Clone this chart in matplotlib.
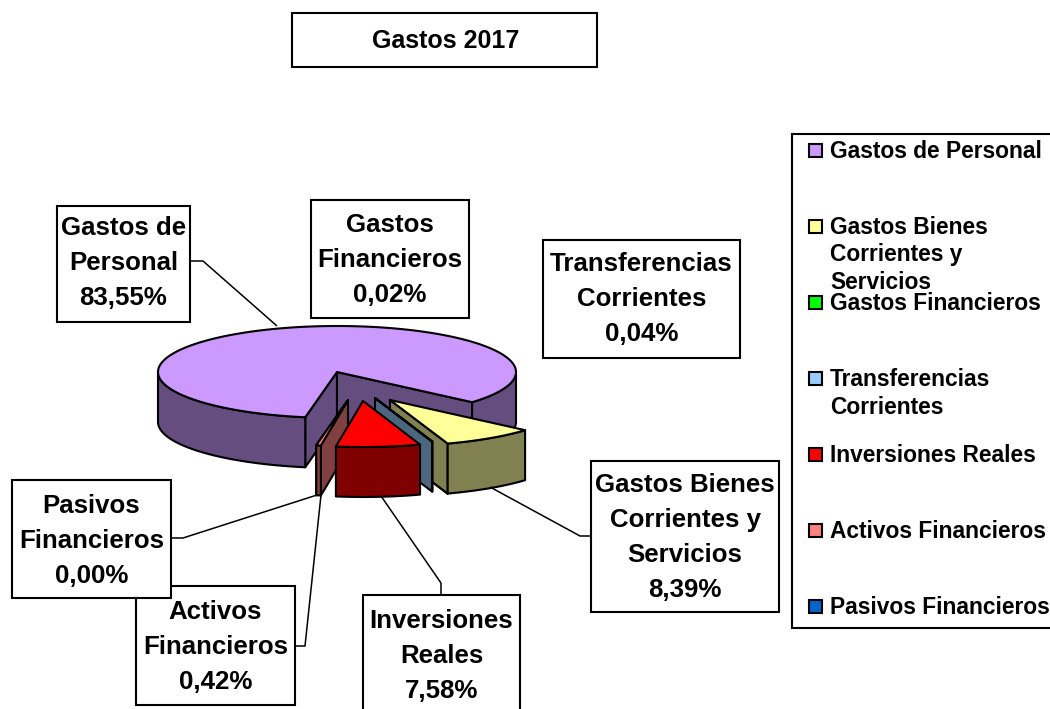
import numpy as np
import matplotlib
matplotlib.use("Agg")
import matplotlib.pyplot as plt
from matplotlib.patches import Polygon, Rectangle

plt.rcParams['font.family'] = ['Liberation Sans', 'DejaVu Sans']

# ---- data ----
title = "Gastos 2017"
categories = ["Gastos de Personal", "Gastos Bienes Corrientes y Servicios", "Gastos Financieros",
              "Transferencias Corrientes", "Inversiones Reales", "Activos Financieros", "Pasivos Financieros"]
values = [83.55, 8.39, 0.02, 0.04, 7.58, 0.42, 0.00]

# ---- styles / layout (pixel coordinates) ----
top_colors = ["#CC99FF", "#FFFF99", "#00FF00", "#99CCFF", "#FF0000", "#FF8080", "#0066CC"]
side_colors = ["#664D80", "#808050", "#008000", "#4D6680", "#800000", "#804040", "#003366"]
explode_dx = [0, 53, 53, 38, 26, 11, 11]
explode_dy = [0, 28, 28, 26, 29, 28, 28]
draw_order = [0, 6, 5, 2, 1, 3, 4]
CX, CY, RX, RY, DEPTH = 337, 372, 179, 46, 50
START = -100.22

label_lines = [["Gastos de", "Personal"], ["Gastos Bienes", "Corrientes y", "Servicios"], ["Gastos", "Financieros"],
               ["Transferencias", "Corrientes"], ["Inversiones", "Reales"], ["Activos", "Financieros"], ["Pasivos", "Financieros"]]
legend_lines = [["Gastos de Personal"], ["Gastos Bienes", "Corrientes y", "Servicios"], ["Gastos Financieros"],
                ["Transferencias", "Corrientes"], ["Inversiones Reales"], ["Activos Financieros"], ["Pasivos Financieros"]]
label_boxes = [(57, 206, 190, 322), (591, 461, 779, 612), (311, 200, 469, 318), (543, 240, 740, 358),
               (363, 595, 520, 715), (136, 586, 295, 705), (12, 480, 171, 598)]
label_first_y = [226, 483, 223, 262, 619, 610, 504]
leaders = [[(190, 261), (203, 261), (277, 326)], [(591, 536), (580, 536), (490, 487)], None, None,
           [(441, 595), (441, 583), (381, 496)], [(295, 646), (305, 646), (321, 495)], [(171, 538), (183, 538), (317, 495)]]

fig = plt.figure(figsize=(10.5, 7.09), dpi=100)
ax = fig.add_axes([0, 0, 1, 1])
ax.set_xlim(0, 1050)
ax.set_ylim(709, 0)
ax.axis('off')

LW = 1.5
def poly(pts, fc, z):
    ax.add_patch(Polygon(pts, closed=True, fc=fc, ec='black', lw=LW, joinstyle='round', zorder=z))

def ell(cx, cy, a_deg):
    a = np.radians(a_deg)
    return np.column_stack([cx + RX * np.cos(a), cy - RY * np.sin(a)])

# slice angles, running clockwise from START
ends = START - np.cumsum(values) * 3.6
starts = np.concatenate([[START], ends[:-1]])

z = 2
for i in draw_order:
    a0, a1 = starts[i], ends[i]       # a1 < a0
    cx, cy = CX + explode_dx[i], CY + explode_dy[i]
    apex = np.array([[cx, cy]])
    # cut walls facing the viewer
    for a, nrm in ((a0, a0 + 90), (a1, a1 - 90)):
        if np.sin(np.radians(nrm)) < 0:
            edge = ell(cx, cy, np.array([a]))
            poly(np.vstack([apex, edge, edge + [0, DEPTH], apex + [0, DEPTH]]), side_colors[i], z); z += 1
    # outer wall: only front half (sin<0) visible
    for lo, hi in [(-180, 0), (-540, -360)]:
        s, e = max(a1, lo), min(a0, hi)
        if e > s:
            arc = ell(cx, cy, np.linspace(s, e, 80))
            low = arc + [0, DEPTH]
            poly(np.vstack([arc, low[::-1]]), side_colors[i], z); z += 1
    # top
    arc = ell(cx, cy, np.linspace(a1, a0, max(3, int((a0 - a1) * 3))))
    poly(np.vstack([apex, arc]), top_colors[i], z); z += 1

def box(x0, y0, x1, y1, zz=200):
    ax.add_patch(Rectangle((x0, y0), x1 - x0, y1 - y0, fc='white', ec='black', lw=LW, zorder=zz))

LFS = 18.6
PITCH = 35
for i, cat in enumerate(categories):
    b = label_boxes[i]
    if leaders[i]:
        xs, ys = zip(*leaders[i])
        ax.plot(xs, ys, color='black', lw=1.1, zorder=150, solid_capstyle='butt')
    box(*b)
    lines = label_lines[i] + [f"{values[i]:.2f}".replace('.', ',') + "%"]
    xc = (b[0] + b[2]) / 2
    for k, t in enumerate(lines):
        ax.text(xc, label_first_y[i] + k * PITCH + 9, t, ha='center', va='baseline',
                fontsize=LFS, fontweight='bold', zorder=210)

# title
box(292, 13, 597, 67)
ax.text(445.5, 48, title, ha='center', va='baseline', fontsize=18, fontweight='bold', zorder=210)

# legend
box(792, 134, 1060, 628)
for i, lines in enumerate(legend_lines):
    yc = 150 + i * 76
    ax.add_patch(Rectangle((809, yc - 6.5), 13, 13, fc=top_colors[i], ec='black', lw=LW, zorder=210))
    for k, t in enumerate(lines):
        ax.text(830, yc + 8 + k * 27.5, t, ha='left', va='baseline', fontsize=16.4, fontweight='bold', zorder=210)

fig.savefig("out.png", dpi=100)
